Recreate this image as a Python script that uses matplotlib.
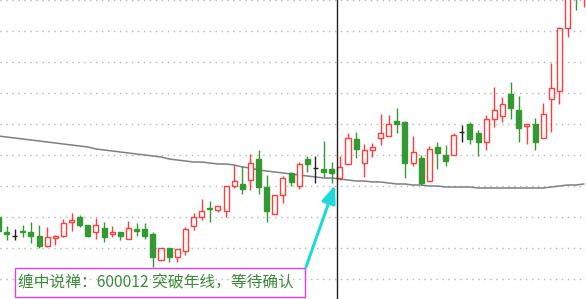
import matplotlib
matplotlib.use('Agg')
import matplotlib.pyplot as plt
import numpy as np
from matplotlib.patches import Rectangle

# daily candles (price)
opens = [3.83, 3.68, 3.64, 3.69, 3.68, 3.64, 3.54, 3.62, 3.64, 3.78,
         3.83, 3.75, 3.68, 3.72, 3.66, 3.68, 3.61, 3.71, 3.71, 3.66,
         3.40, 3.52, 3.43, 3.49, 3.74, 3.83, 3.92, 3.90, 3.89, 4.14,
         4.16, 4.20, 4.41, 4.13, 3.86, 4.05, 4.27, 4.14, 4.41, 4.32,
         4.31, 4.31, 4.22, 4.36, 4.61, 4.37, 4.50, 4.62, 4.64, 4.79,
         4.78, 4.37, 4.42, 4.19, 4.53, 4.45, 4.45, 4.68, 4.76, 4.67,
         4.58, 4.81, 4.84, 5.06, 4.90, 4.74, 4.76, 4.62, 5.01, 5.09,
         5.72, 6.25, 6.05]
closes = [3.69, 3.66, 3.64, 3.68, 3.64, 3.54, 3.63, 3.64, 3.77, 3.80,
          3.75, 3.64, 3.75, 3.63, 3.68, 3.64, 3.72, 3.69, 3.64, 3.43,
          3.52, 3.43, 3.51, 3.71, 3.83, 3.89, 3.91, 3.94, 4.14, 4.19,
          4.11, 4.37, 4.13, 3.89, 4.05, 4.22, 4.18, 4.36, 4.36, 4.32,
          4.28, 4.27, 4.33, 4.62, 4.51, 4.50, 4.53, 4.67, 4.76, 4.76,
          4.37, 4.48, 4.17, 4.51, 4.47, 4.39, 4.65, 4.68, 4.61, 4.58,
          4.81, 4.90, 4.96, 4.92, 4.72, 4.76, 4.58, 4.86, 5.12, 5.72,
          6.10, 6.05, 6.20]
highs = [3.85, 3.74, 3.71, 3.75, 3.78, 3.75, 3.73, 3.65, 3.81, 3.87,
         3.85, 3.75, 3.82, 3.78, 3.74, 3.68, 3.79, 3.77, 3.77, 3.68,
         3.52, 3.52, 3.51, 3.73, 3.87, 4.01, 3.99, 3.94, 4.14, 4.35,
         4.34, 4.46, 4.50, 4.25, 4.05, 4.24, 4.28, 4.38, 4.44, 4.44,
         4.59, 4.38, 4.44, 4.67, 4.68, 4.56, 4.57, 4.86, 4.85, 4.92,
         4.79, 4.64, 4.45, 4.54, 4.58, 4.55, 4.67, 4.75, 4.78, 4.70,
         4.85, 5.13, 5.03, 5.18, 5.04, 4.76, 4.82, 4.97, 5.37, 5.73,
         6.15, 6.30, 6.30]
lows = [3.69, 3.60, 3.60, 3.63, 3.57, 3.52, 3.53, 3.55, 3.63, 3.69,
        3.73, 3.63, 3.61, 3.58, 3.63, 3.60, 3.61, 3.64, 3.61, 3.33,
        3.40, 3.38, 3.38, 3.45, 3.70, 3.80, 3.78, 3.88, 3.83, 4.12,
        4.06, 4.10, 4.06, 3.78, 3.86, 3.97, 4.14, 4.11, 4.28, 4.17,
        4.23, 4.17, 4.20, 4.36, 4.42, 4.23, 4.43, 4.55, 4.64, 4.67,
        4.22, 4.34, 4.15, 4.19, 4.31, 4.34, 4.45, 4.58, 4.56, 4.44,
        4.50, 4.73, 4.78, 4.81, 4.58, 4.56, 4.50, 4.62, 4.68, 4.96,
        5.63, 5.90, 5.93]
# 250-day moving average (年线)
ma250 = [4.64, 4.63, 4.62, 4.61, 4.60, 4.59, 4.58, 4.57, 4.56, 4.55,
         4.54, 4.53, 4.51, 4.50, 4.49, 4.48, 4.47, 4.46, 4.45, 4.44,
         4.43, 4.41, 4.40, 4.39, 4.38, 4.38, 4.37, 4.36, 4.36, 4.35,
         4.33, 4.32, 4.30, 4.29, 4.28, 4.27, 4.26, 4.25, 4.24, 4.23,
         4.22, 4.22, 4.21, 4.20, 4.19, 4.19, 4.18, 4.18, 4.17, 4.16,
         4.16, 4.15, 4.15, 4.14, 4.14, 4.13, 4.13, 4.13, 4.13, 4.12,
         4.12, 4.12, 4.12, 4.12, 4.12, 4.12, 4.12, 4.12, 4.13, 4.14,
         4.15, 4.15, 4.16]
note = "缠中说禅：600012 突破年线，等待确认"

plt.rcParams['font.family'] = ['Noto Sans CJK SC', 'DejaVu Sans']

RED = '#ff3c3c'
GREEN = '#339933'
BLACK = '#222222'

fig = plt.figure(figsize=(5.86, 2.99), dpi=100)
ax = fig.add_axes([0, 0, 1, 1])
ax.set_xlim(0.197, 72.27)
ax.set_ylim(3.01, 6.0)
ax.axis('off')

# dotted horizontal grid
for lvl in np.arange(6.0, 3.1, -0.31):
    ax.axhline(lvl, color='#b4b4b4', lw=1.0, linestyle=(0, (1, 3.3)), zorder=0)

x = np.arange(len(opens))
o = np.array(opens)
c = np.array(closes)

edge = [RED if cc > oo else (GREEN if cc < oo else BLACK) for oo, cc in zip(o, c)]
face = ['white' if cc > oo else col for oo, cc, col in zip(o, c, edge)]

ax.plot(x, ma250, color='#808080', lw=1.1, zorder=1)
ax.vlines(x, lows, highs, colors=edge, lw=1.0, zorder=2)
ax.bar(x, c - o, bottom=o, width=0.62, color=face, edgecolor=edge,
       linewidth=1.0, zorder=3)

# cursor line
ax.axvline(41.69, color=BLACK, lw=1.0, zorder=4)

# note box + arrow
ax.add_patch(Rectangle((15 / 586, 2 / 299), 290 / 586, 29 / 299,
                       transform=ax.transAxes, fill=False,
                       edgecolor='#e03ee0', lw=1.0, zorder=5))
ax.text(18 / 586, 1 - 282.5 / 299, note, transform=ax.transAxes,
        fontsize=11.3, color='#3a8a3a', va='center', ha='left', zorder=5)
ax.annotate('', xy=(335 / 586, 1 - 185 / 299), xytext=(306 / 586, 1 - 267 / 299),
            xycoords='axes fraction',
            arrowprops=dict(arrowstyle='-|>,head_length=0.9,head_width=0.35',
                            color='#20d8d8', lw=2.2, shrinkA=0, shrinkB=0,
                            mutation_scale=12), zorder=6)

fig.savefig('out.png', dpi=100)
